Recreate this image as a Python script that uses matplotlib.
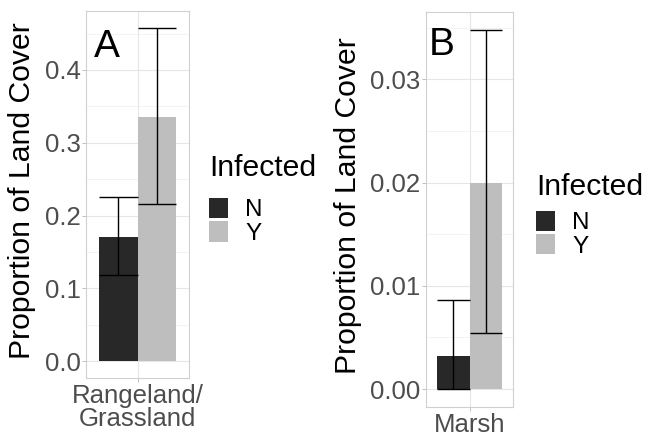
import numpy as np
import matplotlib.pyplot as plt
from matplotlib.patches import Patch
from matplotlib.ticker import MultipleLocator

plt.rcParams['font.family'] = ['Liberation Sans', 'DejaVu Sans']

# data
groups = ['N', 'Y']
colors = ['#282828', '#BEBEBE']

# panel A: Rangeland/Grassland
a_cat = 'Rangeland/\nGrassland'
a_mean = [0.171, 0.336]
a_lo = [0.118, 0.216]
a_hi = [0.225, 0.458]

# panel B: Marsh
b_cat = 'Marsh'
b_mean = [0.0032, 0.0200]
b_lo = [0.0, 0.0054]
b_hi = [0.0086, 0.0348]

W, H = 646, 436
fig = plt.figure(figsize=(W / 100, H / 100), dpi=100)


def px_axes(l, r, t, b):
    return fig.add_axes([l / W, (H - b) / H, (r - l) / W, (b - t) / H])


def panel(ax, cat, mean, lo, hi, letter, major, minor, fmt, lab_x, letter_xy):
    width = 0.45
    xs = [1 - width / 2, 1 + width / 2]
    for x, m, c in zip(xs, mean, colors):
        ax.bar(x, m, width=width, color=c, zorder=2)
    ax.vlines(xs, lo, hi, color='black', lw=1.0, zorder=3)
    ax.hlines(lo, [x - width / 2 for x in xs], [x + width / 2 for x in xs], color='black', lw=1.0, zorder=3)
    ax.hlines(hi, [x - width / 2 for x in xs], [x + width / 2 for x in xs], color='black', lw=1.0, zorder=3)

    top = max(hi)
    ax.set_xlim(0.4, 1.6)
    ax.set_ylim(-0.05 * top, 1.05 * top)
    ax.set_xticks([1])
    ax.set_xticklabels([cat], linespacing=0.95)
    ax.yaxis.set_major_locator(MultipleLocator(major))
    ax.yaxis.set_minor_locator(MultipleLocator(minor))
    ax.yaxis.set_major_formatter(fmt)
    ax.grid(which='major', color='#E6E6E6', lw=0.8, zorder=0)
    ax.grid(which='minor', axis='y', color='#EEEEEE', lw=0.5, zorder=0)
    ax.set_axisbelow(True)
    ax.tick_params(which='major', length=3, width=0.7, color='#C0C0C0', labelsize=18.5,
                   labelcolor='#4D4D4D', pad=1)
    ax.tick_params(which='minor', length=0)
    for s in ax.spines.values():
        s.set_color('#D0D0D0')
        s.set_linewidth(0.8)
    ax.set_ylabel('Proportion of Land Cover', fontsize=21.7, color='black')
    ax.yaxis.set_label_coords(lab_x, 0.51)
    ax.text(letter_xy[0], letter_xy[1], letter, transform=ax.transAxes, fontsize=28,
            va='baseline', ha='left', color='black')


axA = px_axes(86, 189, 11, 378)
panel(axA, a_cat, a_mean, a_lo, a_hi, 'A', 0.1, 0.05, '{x:.1f}', -0.49, (0.075, 0.875))

axB = px_axes(426, 513, 12, 407)
panel(axB, b_cat, b_mean, b_lo, b_hi, 'B', 0.01, 0.005, '{x:.2f}', -0.73, (0.03, 0.891))

handles = [Patch(facecolor=c, edgecolor='none') for c in colors]
# (axes, legend top-left in px, gap between title and keys in points)
for ax, (lx, ly), gap in [(axA, (209, 154), 11.5), (axB, (536, 173), 7)]:
    leg = ax.legend(handles, groups, title='Infected', loc='upper left',
                    bbox_to_anchor=(lx / W, (H - ly) / H), bbox_transform=fig.transFigure,
                    frameon=False, borderpad=0, borderaxespad=0, fontsize=17.5,
                    title_fontsize=21.7, handlelength=0.8, handleheight=0.9,
                    handletextpad=0.7, labelspacing=0)
    leg._legend_box.align = 'left'
    leg._legend_box.sep = gap

fig.savefig('out.png', dpi=100)
